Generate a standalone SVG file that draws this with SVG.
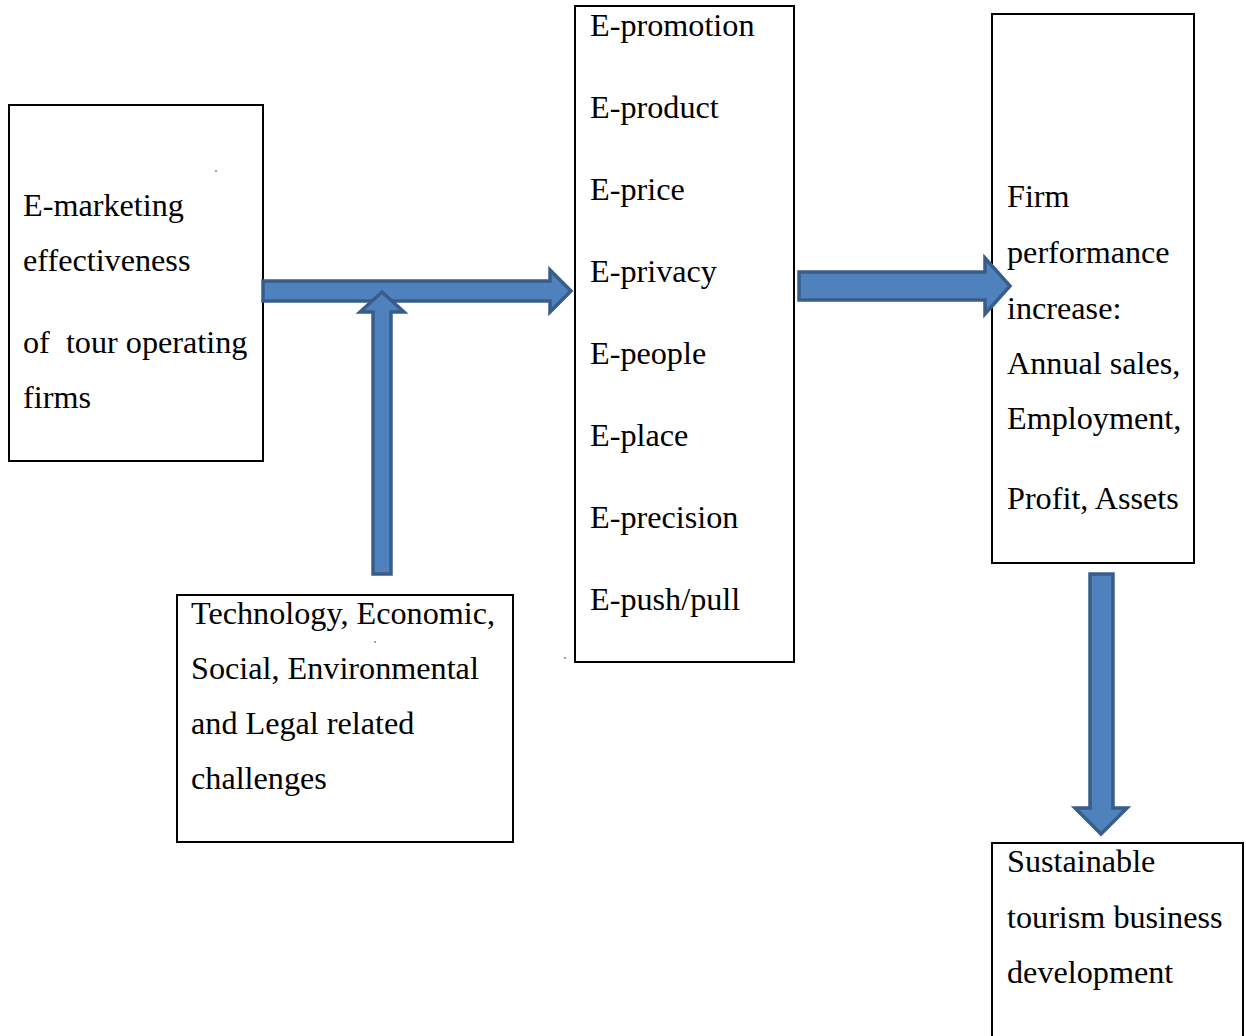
<svg xmlns="http://www.w3.org/2000/svg" width="1246" height="1036" viewBox="0 0 1246 1036">
<style>
.box{fill:#ffffff;stroke:#000000;stroke-width:2}
.arrow{fill:#4F81BD;stroke:#385D8A;stroke-width:3.5;stroke-linejoin:miter}
text{font-family:"Liberation Serif","Times New Roman",serif;font-size:32.2px;fill:#000000;white-space:pre}
.dot{fill:#000000}
</style>
<rect width="1246" height="1036" fill="#ffffff"/>
<g id="node-emarketing">
<rect class="box" x="9" y="105" width="254" height="356"/>
<text x="23" y="216">E-marketing</text>
<text x="23" y="271">effectiveness</text>
<text x="23" y="353" xml:space="preserve">of  tour operating</text>
<text x="23" y="408">firms</text>
<circle class="dot" cx="216" cy="171" r="0.7"/>
</g>
<g id="node-mix">
<rect class="box" x="575" y="6" width="219" height="656"/>
<text x="590" y="36">E-promotion</text>
<text x="590" y="118">E-product</text>
<text x="590" y="200">E-price</text>
<text x="590" y="282">E-privacy</text>
<text x="590" y="364">E-people</text>
<text x="590" y="446">E-place</text>
<text x="590" y="528">E-precision</text>
<text x="590" y="610">E-push/pull</text>
</g>
<g id="node-performance">
<rect class="box" x="992" y="14" width="202" height="549"/>
<text x="1007" y="207">Firm</text>
<text x="1007" y="263">performance</text>
<text x="1007" y="319">increase:</text>
<text x="1007" y="374">Annual sales,</text>
<text x="1007" y="429">Employment,</text>
<text x="1007" y="509">Profit, Assets</text>
</g>
<g id="node-challenges">
<rect class="box" x="177" y="595" width="336" height="247"/>
<text x="191" y="624">Technology, Economic,</text>
<text x="191" y="679">Social, Environmental</text>
<text x="191" y="734">and Legal related</text>
<text x="191" y="789">challenges</text>
<circle class="dot" cx="375" cy="642" r="0.7"/>
</g>
<g id="node-sustainable">
<rect class="box" x="992" y="843" width="251" height="210"/>
<text x="1007" y="872">Sustainable</text>
<text x="1007" y="928">tourism business</text>
<text x="1007" y="983">development</text>
</g>
<g id="connectors">
<path class="arrow" d="M263,281 L550,281 L550,270 L571,291 L550,312 L550,301 L263,301 Z"/>
<path class="arrow" d="M373,574 L373,312 L360,312 L382,292 L404,312 L391,312 L391,574 Z"/>
<path class="arrow" d="M799,272 L985,272 L985,258 L1010,286 L985,314 L985,300 L799,300 Z"/>
<path class="arrow" d="M1090,574 L1113,574 L1113,808 L1127,808 L1101,834 L1075,808 L1090,808 Z"/>
</g>
<circle class="dot" cx="565" cy="658" r="0.7"/>
</svg>
